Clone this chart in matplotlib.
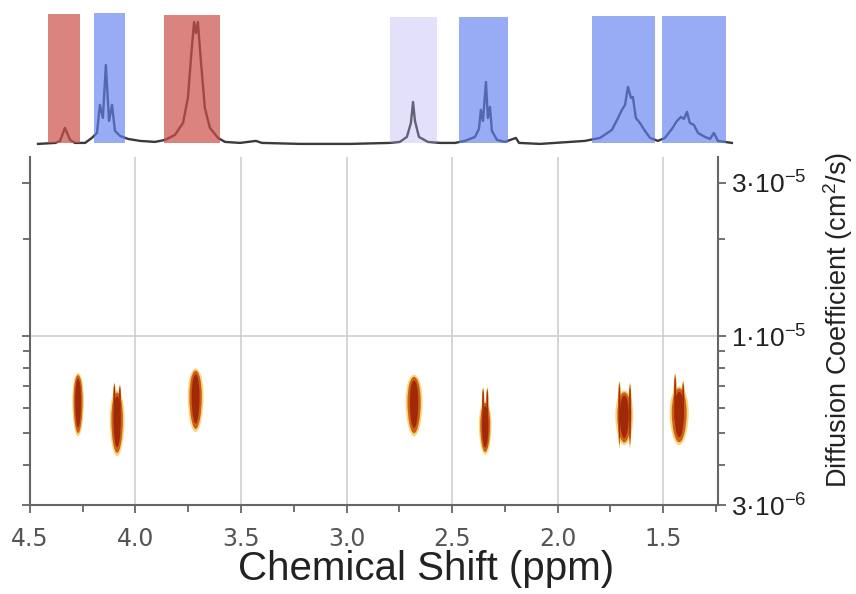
"""
DOSY map with 1H spectrum on top
"""

import numpy as np
import matplotlib
matplotlib.use('Agg')
import matplotlib.pyplot as plt
from matplotlib.patches import Ellipse, Rectangle

plt.rcParams['mathtext.fontset'] = 'custom'
plt.rcParams['mathtext.rm'] = 'Liberation Sans'
plt.rcParams['mathtext.it'] = 'Liberation Sans:italic'

#1D spectrum (ppm, intensity)
spec_ppm = [4.462, 4.38, 4.358, 4.335, 4.311, 4.288, 4.24, 4.208, 4.184, 4.17, 4.156,
            4.142, 4.127, 4.113, 4.099, 4.075, 4.038, 3.981, 3.91, 3.863, 3.816, 3.778,
            3.755, 3.74, 3.726, 3.717, 3.708, 3.693, 3.675, 3.651, 3.613, 3.58, 3.509,
            3.434, 3.406, 3.226, 2.99, 2.802, 2.755, 2.722, 2.703, 2.693, 2.684, 2.665,
            2.623, 2.566, 2.495, 2.448, 2.401, 2.382, 2.373, 2.363, 2.349, 2.34, 2.33,
            2.321, 2.297, 2.26, 2.208, 2.193, 2.094, 1.953, 1.882, 1.811, 1.755, 1.726,
            1.708, 1.693, 1.679, 1.665, 1.656, 1.642, 1.623, 1.599, 1.575, 1.538, 1.505,
            1.472, 1.448, 1.429, 1.415, 1.401, 1.387, 1.368, 1.349, 1.316, 1.292, 1.274,
            1.255, 1.222, 1.189]
spec_int = [-1, 0, 2, 15, 3, 0, 0, 5, 10, 38, 25,
            78, 22, 38, 12, 7, 4, 2, 1, 3, 8, 20,
            45, 86, 121, 110, 121, 80, 35, 15, 5, 1, 0,
            2, 0, -1, -1, 0, 1, 6, 20, 41, 22, 6,
            1, 0, 0, 2, 6, 14, 33, 22, 61, 25, 36,
            12, 3, 1, 5, 0, -1, 1, 2, 5, 13, 25,
            33, 38, 56, 45, 46, 25, 20, 12, 5, 2, 5,
            14, 22, 26, 24, 31, 20, 18, 10, 6, 4, 10,
            2, 1, 0]

#Highlighted regions (ppm start, ppm end, top)
reg_start = [4.415, 4.198, 3.868, 2.802, 2.476, 1.849, 1.519]
reg_end = [4.264, 4.052, 3.604, 2.580, 2.245, 1.552, 1.217]
reg_top = [129, 130, 128, 126, 126, 127, 127]
reg_kind = ['red', 'blue', 'red', 'lav', 'blue', 'blue', 'blue']

#DOSY cross peaks (main body)
spot_ppm = [4.272, 4.087, 3.715, 2.680, 2.343, 1.684, 1.424]
spot_width = [0.055, 0.07, 0.075, 0.08, 0.06, 0.085, 0.09]
spot_dlo = [4.9e-6, 4.25e-6, 5.05e-6, 4.9e-6, 4.3e-6, 4.6e-6, 4.6e-6]
spot_dhi = [7.7e-6, 6.8e-6, 7.95e-6, 7.6e-6, 6.3e-6, 6.8e-6, 7.0e-6]

#Narrow lobes sticking out of some cross peaks
lobe_ppm = [4.100, 4.074, 2.353, 2.333, 1.707, 1.657, 1.443, 1.405]
lobe_width = [0.014, 0.014, 0.013, 0.013, 0.016, 0.016, 0.016, 0.016]
lobe_dlo = [5.5e-6, 5.5e-6, 5.4e-6, 5.4e-6, 4.5e-6, 4.5e-6, 5.2e-6, 5.2e-6]
lobe_dhi = [7.2e-6, 7.1e-6, 6.95e-6, 6.95e-6, 7.3e-6, 7.2e-6, 7.7e-6, 7.3e-6]

#Axis ticks
xticks = [4.5, 4.0, 3.5, 3.0, 2.5, 2.0, 1.5]
xminor = [4.25, 3.75, 3.25, 2.75, 2.25, 1.75, 1.25]
yticks = [3e-6, 1e-5, 3e-5]
ylabels = ['3·10$^{-6}$', '1·10$^{-5}$', '3·10$^{-5}$']
yminor = [4e-6, 5e-6, 6e-6, 7e-6, 8e-6, 9e-6, 2e-5]

fig = plt.figure(figsize=(8.56, 5.94), dpi=100)

#Main DOSY panel
ax = fig.add_axes([0.035, 0.1498, 0.8038, 0.5859])
ax.set_xlim(4.5, 1.24)
ax.set_yscale('log')
ax.set_ylim(3e-6, 3.6e-5)

for x in xticks[1:]:
    ax.axvline(x, color='#d0d0d0', lw=1.2, zorder=0)
ax.axhline(1e-5, color='#d0d0d0', lw=1.2, zorder=0)

#outer yellow rim first, then orange, then dark core
layers = [(1.0, 1.0, '#f5d67a'), (0.78, 0.92, '#cf5f18'), (0.5, 0.78, '#a02a08')]
for sw, sh, c in layers:
    for p, w, lo, hi in zip(spot_ppm, spot_width, spot_dlo, spot_dhi):
        ax.add_patch(Ellipse((p, (lo + hi) / 2), w * sw, (hi - lo) * sh,
                             facecolor=c, edgecolor='none', zorder=2))
    for p, w, lo, hi in zip(lobe_ppm, lobe_width, lobe_dlo, lobe_dhi):
        ax.add_patch(Ellipse((p, (lo + hi) / 2), w * sw, (hi - lo) * sh,
                             facecolor=c, edgecolor='none', zorder=2))

ax.spines['top'].set_visible(False)
for s in ['left', 'right', 'bottom']:
    ax.spines[s].set_color('#666666')
    ax.spines[s].set_linewidth(1.5)

ax.set_xticks(xticks)
ax.set_xticklabels([f'{v:.1f}' for v in xticks])
ax.set_xticks(xminor, minor=True)
ax.set_yticks(yticks)
ax.set_yticklabels(ylabels)
ax.set_yticks(yminor, minor=True)
ax.tick_params(which='both', direction='out', color='#666666', width=1.3)
ax.tick_params(which='major', length=6)
ax.tick_params(which='minor', length=5)
ax.tick_params(axis='x', labelsize=17, labelcolor='#555555', pad=10)
ax.tick_params(axis='y', left=True, right=True, labelleft=False, labelright=True,
               labelsize=19, labelcolor='#222222', pad=3)
ax.tick_params(axis='y', which='minor', left=True, right=True)
for lab in ax.get_yticklabels():
    lab.set_family('Liberation Sans')

#Top 1D spectrum
ax_top = fig.add_axes([0.035, 0.751, 0.8294, 0.2355])
ax_top.set_xlim(4.5, 1.151)
ax_top.set_ylim(-5, 135)
ax_top.axis('off')
ax_top.plot(spec_ppm, spec_int, color='#3a3a3a', lw=1.7, zorder=1)
colors = {'red': ('#cc4f48', 0.7), 'blue': ('#6080f0', 0.65), 'lav': ('#b0a8ee', 0.35)}
for a, b, t, k in zip(reg_start, reg_end, reg_top, reg_kind):
    c, al = colors[k]
    ax_top.add_patch(Rectangle((b, 0), a - b, t, facecolor=c, alpha=al,
                               edgecolor='none', zorder=2))

fig.text(0.4977, 0.0236, 'Chemical Shift (ppm)', fontsize=29, family='Liberation Sans',
         color='#222222', ha='center', va='baseline')
fig.text(0.979, 0.461, 'Diffusion Coefficient (cm$^{2}$/s)', fontsize=19.5,
         family='Liberation Sans', color='#222222', rotation=90, ha='center', va='center')

plt.savefig('out.png')
